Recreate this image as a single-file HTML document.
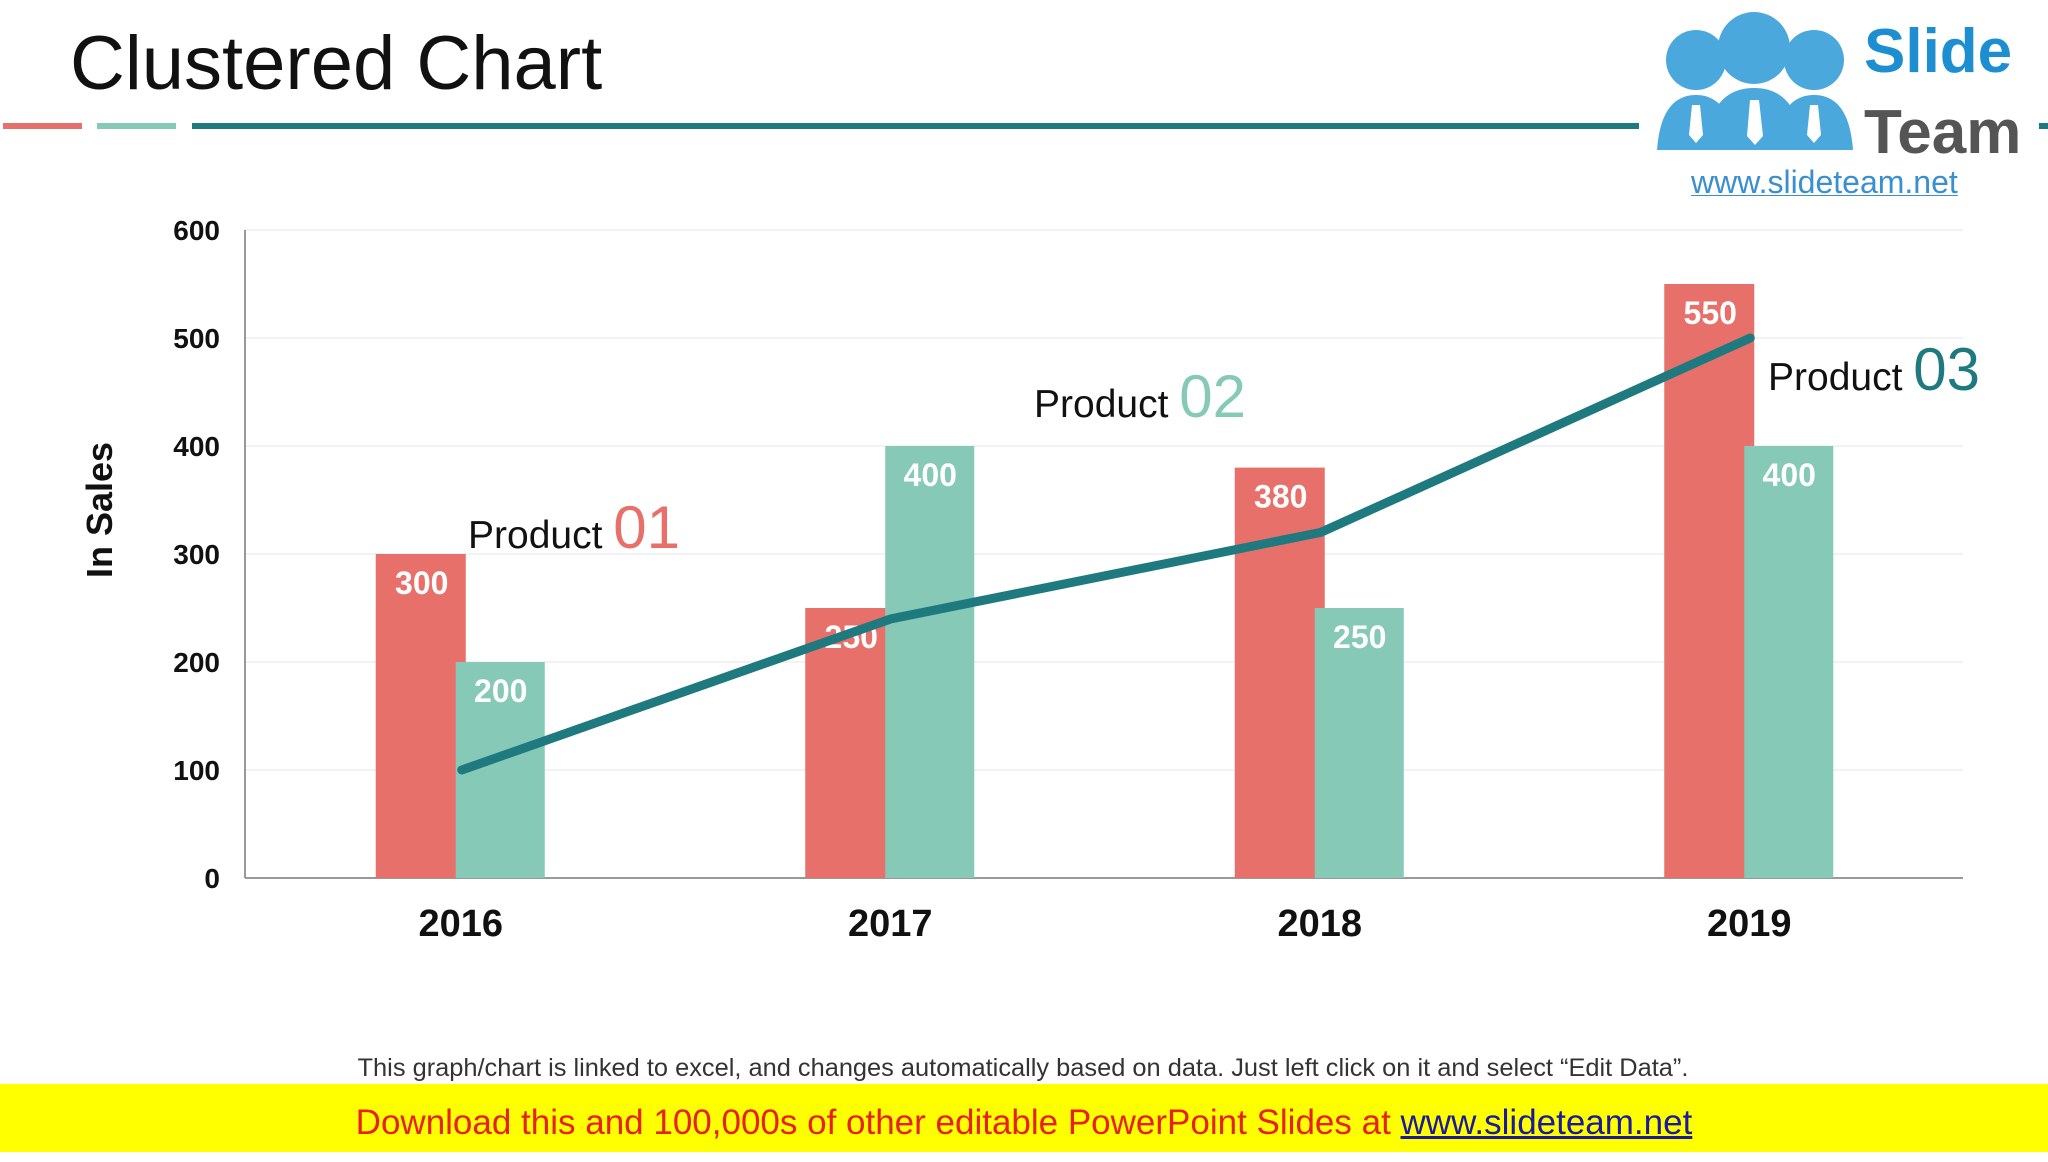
<!DOCTYPE html>
<html><head><meta charset="utf-8"><style>
body{margin:0;width:2048px;height:1152px;background:#fff;position:relative;overflow:hidden;font-family:"Liberation Sans",sans-serif}
.abs{position:absolute}
</style></head><body>
<div class="abs" style="left:70px;top:20px;font-size:76px;color:#111;font-family:'Liberation Sans',sans-serif">Clustered Chart</div>
<div class="abs" style="left:3px;top:123px;width:79px;height:6px;background:#E8706A"></div>
<div class="abs" style="left:97px;top:123px;width:79px;height:6px;background:#85C9B6"></div>
<div class="abs" style="left:192px;top:123px;width:1856px;height:6px;background:#1F7A80"></div>
<div class="abs" style="left:1639px;top:0;width:400px;height:196px;background:#fff">
<svg width="400" height="196">
<g fill="#4aa8dd">
<circle cx="57" cy="60" r="30"/><circle cx="115" cy="48" r="36"/><circle cx="175" cy="60" r="30"/>
<path d="M18 150 Q22 95 57 95 Q92 95 96 150Z"/><path d="M136 150 Q140 95 175 95 Q210 95 214 150Z"/>
<path d="M66 150 Q70 88 115 88 Q160 88 164 150Z"/></g>
<g fill="#fff"><path d="M53 105h8l3 30-7 8-7-8z"/><path d="M111 100h9l4 36-8 9-8-9z"/><path d="M171 105h8l3 30-7 8-7-8z"/></g>
<text x="225" y="72" font-family="Liberation Sans" font-weight="bold" font-size="62" fill="#1d8fd0">Slide</text>
<text x="225" y="153" font-family="Liberation Sans" font-weight="bold" font-size="62" fill="#555">Team</text>
<text x="52" y="193" font-family="Liberation Sans" font-size="32" fill="#3a8fd0" text-decoration="underline">www.slideteam.net</text>
</svg></div>
<svg class="abs" style="left:0;top:0" width="2048" height="1152" id="chart"></svg>
<div class="abs" style="left:0;width:2046px;top:1054px;text-align:center;font-size:25.4px;color:#333">This graph/chart is linked to excel, and changes automatically based on data. Just left click on it and select “Edit Data”.</div>
<div class="abs" style="left:0;top:1084px;width:2048px;height:68px;background:#FFFF00;text-align:center;line-height:78px;font-size:35px;color:#E8201A">Download this and 100,000s of other editable PowerPoint Slides at <span style="color:#1a1aa0;text-decoration:underline">www.slideteam.net</span></div>
<script>
const categories=["2016","2017","2018","2019"];
const product1=[300,250,380,550];
const product2=[200,400,250,400];
const product3=[100,240,320,500];
const yTicks=[0,100,200,300,400,500,600];
const NS="http://www.w3.org/2000/svg",svg=document.getElementById('chart');
const X0=245,X1=1963,Y0=878,Y1=230,YMAX=600;
const y=v=>Y0-(v/YMAX)*(Y0-Y1);
const step=(X1-X0)/categories.length;
const cx=i=>X0+step*(i+0.5);
function el(t,a,txt){const e=document.createElementNS(NS,t);for(const k in a)e.setAttribute(k,a[k]);if(txt!=null)e.textContent=txt;svg.appendChild(e);return e;}
yTicks.forEach(t=>{
 const g=el('line',{x1:X0,x2:X1,y1:y(t),y2:y(t),stroke:t?'#eeeeee':'#999','stroke-width':t?1.5:2});
 
 
 const l=el('text',{x:220,y:y(t)+10,'text-anchor':'end','font-size':28,'font-weight':'bold','font-family':'Liberation Sans',fill:'#111'},t);
 
 
});
const ax=el('line',{x1:X0,x2:X0,y1:Y1,y2:Y0,stroke:'#999','stroke-width':2});


const yt=el('text',{x:0,y:0,transform:'translate(112,510) rotate(-90)','text-anchor':'middle','font-size':36,'font-weight':'bold','font-family':'Liberation Sans',fill:'#111'},'In Sales');


categories.forEach((c,i)=>{
 const x=cx(i)+3;
 const r=el('rect',{x:x-87,y:y(product1[i]),width:90,height:Y0-y(product1[i]),fill:'#E8706A'});
 
 
 const t=el('rect',{x:x-7,y:y(product2[i]),width:89,height:Y0-y(product2[i]),fill:'#85C9B6'});
 
 
 const l1=el('text',{x:x-41,y:y(product1[i])+40,'text-anchor':'middle','font-size':32,'font-weight':'bold','font-family':'Liberation Sans',fill:'#fff'},product1[i]);
 
 
 const l2=el('text',{x:x+38,y:y(product2[i])+40,'text-anchor':'middle','font-size':32,'font-weight':'bold','font-family':'Liberation Sans',fill:'#fff'},product2[i]);
 
 
 const cl=el('text',{x:x-2,y:936,'text-anchor':'middle','font-size':38,'font-weight':'bold','font-family':'Liberation Sans',fill:'#111'},c);
 
 
});
const pts=product3.map((v,i)=>(cx(i)+2)+','+y(v)).join(' ');
const pl=el('polyline',{points:pts,fill:'none',stroke:'#1F7A80','stroke-width':9,'stroke-linecap':'round','stroke-linejoin':'round'});


const ann=[["01","#E8706A",468,548],["02","#85C9B6",1034,417],["03","#1F7A80",1768,390]];
ann.forEach(a=>{
 const t=el('text',{x:a[2],y:a[3],'font-family':'Liberation Sans','font-size':39,fill:'#111'});
 
 
 t.innerHTML='Product <tspan font-size="60" fill="'+a[1]+'">'+a[0]+'</tspan>';
});
</script>
</body></html>
